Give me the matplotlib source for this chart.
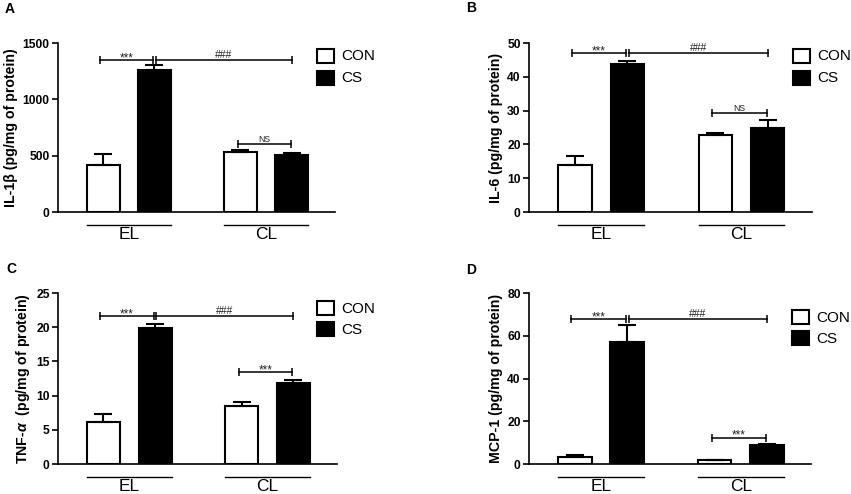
import matplotlib
matplotlib.use('Agg')
import matplotlib.pyplot as plt
import matplotlib.transforms as mtransforms
from matplotlib.patches import Rectangle

plt.rcParams['font.family'] = ['Liberation Sans', 'DejaVu Sans']
plt.rcParams['mathtext.fontset'] = 'custom'
plt.rcParams['mathtext.it'] = 'Liberation Sans:italic:bold'

W, H = 851, 494

# data (A: IL-1b, B: IL-6, C: TNF-a, D: MCP-1)
panels = ['A', 'B', 'C', 'D']
ylabels = ['IL-1β (pg/mg of protein)', 'IL-6 (pg/mg of protein)',
           r'TNF-$\alpha$  (pg/mg of protein)', 'MCP-1 (pg/mg of protein)']
yticks = [[0, 500, 1000, 1500], [0, 10, 20, 30, 40, 50],
          [0, 5, 10, 15, 20, 25], [0, 20, 40, 60, 80]]
groups = ['EL', 'CL']
series = ['CON', 'CS']

con_el = [418, 14.0, 6.2, 3.4]
con_el_err = [95, 2.5, 1.1, 0.8]
cs_el = [1264, 43.8, 19.9, 57.3]
cs_el_err = [38, 1.0, 0.5, 7.8]
con_cl = [530, 22.9, 8.45, 1.7]
con_cl_err = [21, 0.4, 0.55, 0.3]
cs_cl = [504, 25.0, 11.8, 8.9]
cs_cl_err = [21, 2.2, 0.55, 0.6]

top_bracket = [1347, 47.0, 21.6, 67.8]
cl_bracket = [604, 29.2, 13.4, 12.3]
cl_text = ['NS', 'NS', '***', '***']

# layout in pixels (left, top, right, bottom)
axes_px = [(58, 43, 335, 212), (529, 43, 812, 212),
           (58, 293, 337, 464), (529, 293, 811, 464)]
letter_px = [(10, 9), (471, 8), (11, 269), (471, 270)]
legend_px = [(317, 49, 71), (793, 49, 71), (317, 301, 322), (792, 310, 331)]

xpos = [1.28, 2.73, 5.17, 6.62]
bw = 0.93

fig = plt.figure(figsize=(W / 100, H / 100), dpi=100)


def fx(x):
    return x / W


def fy(y):
    return 1 - y / H


def bracket(ax, x1, x2, y, text):
    ax.plot([x1, x2], [y, y], color='black', lw=1.1, clip_on=False)
    ax.plot([x1, x2], [y, y], ls='none', marker='|', ms=6, mew=1.1,
            color='black', clip_on=False)
    size = 6.2 if text == 'NS' else (7.5 if text == '###' else 8.5)
    off = -3.0 if text == '***' else 0.3
    tr = mtransforms.offset_copy(ax.transData, fig=fig, y=off, units='points')
    ax.text((x1 + x2) / 2, y, text, ha='center', va='bottom',
            fontsize=size, color='#222222', transform=tr)


for i in range(4):
    l, t, r, b = axes_px[i]
    ax = fig.add_axes([fx(l), fy(b), fx(r - l), (b - t) / H])
    vals = [con_el[i], cs_el[i], con_cl[i], cs_cl[i]]
    errs = [con_el_err[i], cs_el_err[i], con_cl_err[i], cs_cl_err[i]]
    colors = ['white', 'black', 'white', 'black']

    ax.bar(xpos, vals, width=bw, color=colors, edgecolor='black',
           linewidth=1.5, zorder=2)
    ax.errorbar(xpos, vals, yerr=[[0] * 4, errs], fmt='none', ecolor='black',
                elinewidth=1.5, capsize=6.5, capthick=1.5, zorder=3)

    ymax = yticks[i][-1]
    ax.set_ylim(0, ymax)
    ax.set_xlim(0, 7.85)
    ax.set_yticks(yticks[i])
    ax.set_xticks([])
    for s in ['top', 'right']:
        ax.spines[s].set_visible(False)
    for s in ['left', 'bottom']:
        ax.spines[s].set_linewidth(1.2)
    ax.tick_params(axis='y', direction='out', length=4, width=1.2,
                   labelsize=8.7, pad=2)
    for lab in ax.get_yticklabels():
        lab.set_fontweight('bold')
    ax.set_ylabel(ylabels[i], fontsize=10.2, fontweight='bold', labelpad=3)

    # significance brackets
    bracket(ax, xpos[0] - 0.1, xpos[1] - 0.04, top_bracket[i], '***')
    bracket(ax, xpos[1] + 0.04, xpos[3], top_bracket[i], '###')
    bracket(ax, xpos[2] - 0.08, xpos[3] - 0.03, cl_bracket[i], cl_text[i])

    # group underlines and labels
    tr_line = mtransforms.offset_copy(ax.get_xaxis_transform(), fig=fig,
                                      y=-13 * 0.72, units='points')
    tr_text = mtransforms.offset_copy(ax.get_xaxis_transform(), fig=fig,
                                      y=-14.5 * 0.72, units='points')
    for g, (a, c) in enumerate([(0, 1), (2, 3)]):
        x1 = xpos[a] - bw / 2
        x2 = xpos[c] + bw / 2
        ax.plot([x1, x2], [0, 0], color='black', lw=1.0, transform=tr_line,
                clip_on=False)
        ax.text((x1 + x2) / 2, 0, groups[g], transform=tr_text, ha='center',
                va='top', fontsize=12.5)

    # legend
    lx, ly1, ly2 = legend_px[i]
    for k, ly in enumerate([ly1, ly2]):
        fig.add_artist(Rectangle((fx(lx), fy(ly + 14)), 17 / W, 14 / H,
                                 transform=fig.transFigure,
                                 facecolor=colors[k], edgecolor='black',
                                 linewidth=1.5))
        fig.text(fx(lx + 24), fy(ly + 7.5), series[k], fontsize=11,
                 ha='left', va='center')

    px, py = letter_px[i]
    fig.text(fx(px), fy(py), panels[i], fontsize=10, fontweight='bold',
             ha='center', va='center')

fig.savefig('out.png', dpi=100)
